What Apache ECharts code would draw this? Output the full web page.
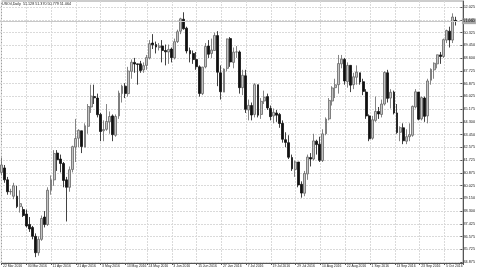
<!DOCTYPE html>
<html><head><meta charset="utf-8">
<script src="https://cdn.jsdelivr.net/npm/echarts@6/dist/echarts.min.js"></script>
<style>html,body{margin:0;padding:0;background:#fff}#c{width:478px;height:270px}</style>
</head><body><div id="c"></div>
<script>
const symbolName = 'USOil,Daily';
const barDates = ['17 Mar','18 Mar','21 Mar','22 Mar','23 Mar','24 Mar','28 Mar','29 Mar','30 Mar','31 Mar','1 Apr','4 Apr','5 Apr','6 Apr','7 Apr','8 Apr','11 Apr','12 Apr','13 Apr','14 Apr','15 Apr','18 Apr','19 Apr','20 Apr','21 Apr','22 Apr','25 Apr','26 Apr','27 Apr','28 Apr','29 Apr','2 May','3 May','4 May','5 May','6 May','9 May','10 May','11 May','12 May','13 May','16 May','17 May','18 May','19 May','20 May','23 May','24 May','25 May','26 May','27 May','30 May','31 May','1 Jun','2 Jun','3 Jun','6 Jun','7 Jun','8 Jun','9 Jun','10 Jun','13 Jun','14 Jun','15 Jun','16 Jun','17 Jun','20 Jun','21 Jun','22 Jun','23 Jun','24 Jun','27 Jun','28 Jun','29 Jun','30 Jun','1 Jul','4 Jul','5 Jul','6 Jul','7 Jul','8 Jul','11 Jul','12 Jul','13 Jul','14 Jul','15 Jul','18 Jul','19 Jul','20 Jul','21 Jul','22 Jul','25 Jul','26 Jul','27 Jul','28 Jul','29 Jul','1 Aug','2 Aug','3 Aug','4 Aug','5 Aug','8 Aug','9 Aug','10 Aug','11 Aug','12 Aug','15 Aug','16 Aug','17 Aug','18 Aug','19 Aug','22 Aug','23 Aug','24 Aug','25 Aug','26 Aug','29 Aug','30 Aug','31 Aug','1 Sep','2 Sep','5 Sep','6 Sep','7 Sep','8 Sep','9 Sep','12 Sep','13 Sep','14 Sep','15 Sep','16 Sep','19 Sep','20 Sep','21 Sep','22 Sep','23 Sep','26 Sep','27 Sep','28 Sep','29 Sep','30 Sep','3 Oct','4 Oct','5 Oct','6 Oct','7 Oct','10 Oct','11 Oct'];
const opens = [40.9,41.2,40.4,39.6,39.3,39.3,38.6,38.4,38.1,37.4,37.2,36.6,35.5,36.4,37.9,37.4,39.7,40.4,42.2,41.8,41.5,40.4,39.9,41.1,42.6,43.2,43.7,42.6,44.0,45.3,46.0,45.9,44.8,43.7,43.8,44.3,44.7,43.4,44.7,46.2,46.7,46.2,47.7,48.3,48.2,48.2,47.8,48.1,48.6,49.6,49.5,49.3,49.4,49.1,49.0,49.2,48.6,49.7,50.4,51.2,50.6,49.1,48.9,48.5,48.0,46.2,48.0,49.4,48.9,49.1,50.1,47.6,46.3,47.9,49.9,48.3,49.0,49.0,46.6,47.4,45.1,45.4,44.8,46.8,44.8,45.7,46.0,45.2,44.7,44.9,44.8,44.2,43.1,42.9,41.9,41.1,41.6,40.1,39.5,40.8,41.9,41.8,43.0,42.8,41.7,43.5,44.5,45.7,46.6,46.8,48.2,48.5,47.0,48.1,46.8,47.3,47.6,47.0,46.3,44.7,43.2,44.4,45.0,44.8,45.5,47.6,45.9,46.3,44.9,43.6,43.9,43.0,43.3,43.4,45.3,46.3,44.5,45.9,44.7,47.1,47.8,48.2,48.8,48.7,49.8,50.4,49.8,51.128];
const highs = [41.9,41.4,40.6,39.8,40.2,40.0,39.7,38.6,38.4,37.9,37.3,36.8,36.6,38.0,38.3,39.9,40.7,42.4,42.4,42.1,41.6,40.6,41.3,42.7,44.5,43.8,43.7,44.2,45.5,46.8,46.8,46.2,44.9,44.4,45.5,45.0,44.8,44.8,46.4,46.8,46.9,48.0,48.5,48.6,48.2,48.4,48.3,48.8,49.8,50.2,49.7,49.6,49.8,49.5,49.5,49.3,49.9,50.5,51.3,51.67,50.7,49.3,49.1,49.0,48.1,48.0,49.6,49.8,49.9,50.3,50.4,48.1,47.9,49.9,50.0,49.3,49.4,49.1,47.8,47.8,45.8,45.6,46.9,46.8,45.9,46.4,46.2,45.4,45.2,45.1,44.9,44.4,43.6,43.4,42.1,41.7,41.6,40.3,41.0,42.1,42.2,43.5,43.1,43.3,43.8,44.6,45.9,46.7,47.2,48.8,48.8,48.6,48.3,48.1,47.6,48.1,47.6,47.2,46.5,44.8,44.7,46.0,45.3,45.8,47.7,47.8,46.5,46.4,45.5,44.0,44.2,43.8,44.2,45.4,46.5,46.3,46.0,46.0,47.2,47.9,48.3,48.8,49.0,49.9,50.5,50.7,51.6,51.370];
const lows = [40.7,40.2,39.4,39.4,39.1,38.5,38.2,37.9,37.2,36.9,36.4,35.2,35.3,36.3,37.2,37.3,39.4,40.0,41.0,40.9,39.9,37.6,39.6,40.9,41.6,42.6,42.2,42.6,43.5,44.9,45.5,44.6,43.0,43.0,43.7,43.5,43.0,43.3,44.5,45.6,45.9,46.0,47.2,47.6,46.8,47.6,47.6,47.8,48.5,49.2,48.9,49.1,48.3,48.1,48.2,48.3,48.5,49.6,50.2,50.5,48.9,48.3,48.2,47.8,46.0,46.1,47.9,48.6,48.6,49.1,46.7,45.8,46.3,47.7,48.0,47.9,48.6,46.2,46.1,44.9,44.4,44.4,44.6,44.6,44.5,45.5,45.1,44.4,44.2,44.3,43.9,42.9,42.6,41.8,41.0,40.6,39.9,39.2,39.3,40.4,41.3,41.7,42.1,41.6,41.6,43.4,44.4,45.4,45.9,46.2,47.9,46.8,46.6,46.3,46.5,46.8,46.8,46.1,44.5,43.0,43.1,44.3,44.5,44.6,45.4,45.6,45.2,44.8,43.5,43.0,42.8,42.8,43.0,43.3,45.2,44.4,44.4,44.3,44.2,46.8,47.2,47.9,48.2,48.6,49.6,49.3,49.6,50.779];
const closes = [41.4,40.4,39.6,39.62,40.0,38.6,38.8,38.0,37.3,37.1,36.6,35.5,36.4,37.8,37.4,39.7,40.4,42.17,41.76,41.5,40.36,39.9,41.08,42.63,43.18,43.73,42.64,44.04,45.33,46.03,45.92,44.78,43.65,43.78,44.32,44.66,43.44,44.66,46.23,46.7,46.21,47.72,48.31,48.19,48.16,47.75,48.08,48.62,49.56,49.48,49.33,49.4,49.1,49.01,49.17,48.62,49.69,50.36,51.23,50.56,49.07,48.88,48.49,48.01,46.21,47.98,49.37,48.85,49.13,50.11,47.64,46.33,47.85,49.88,48.33,48.99,49.0,46.6,47.43,45.14,45.41,44.76,46.8,44.75,45.68,45.95,45.24,44.65,44.94,44.75,44.19,43.13,42.92,41.92,41.14,41.6,40.06,39.51,40.83,41.93,41.8,43.02,42.77,41.71,43.49,44.49,45.74,46.58,46.79,48.22,48.52,47.05,48.1,46.77,47.33,47.64,46.98,46.35,44.7,43.16,44.44,45.0,44.83,45.5,47.62,45.88,46.29,44.9,43.58,43.91,43.03,43.3,43.44,45.34,46.32,44.48,45.93,44.67,47.05,47.83,48.24,48.81,48.69,49.83,50.44,49.81,51.35,51.064];
const priceTickLabels = ['34.875','35.725','36.575','37.425','38.300','39.150','40.025','40.875','41.725','42.575','43.450','44.300','45.175','46.025','46.875','47.725','48.600','49.450','50.325','51.175','52.025'];
const priceMin = 34.875, priceMax = 52.025;
const dateTickLabels = ['22 Mar 2016','30 Mar 2016','11 Apr 2016','21 Apr 2016','3 May 2016','13 May 2016','24 May 2016','3 Jun 2016','15 Jun 2016','27 Jun 2016','7 Jul 2016','19 Jul 2016','29 Jul 2016','10 Aug 2016','22 Aug 2016','1 Sep 2016','13 Sep 2016','23 Sep 2016','5 Oct 2016'];

// categories: bar dates plus one empty slot (chart shift on the right)
const categories = barDates.concat(['']);
const tickBars = dateTickLabels.map((t, i) => i === 0 ? 0 : barDates.indexOf(t.replace(' 2016', '')));
const isTick = (idx) => tickBars.indexOf(idx) >= 0;
const candleData = opens.map((o, i) => [o, closes[i], lows[i], highs[i]]);
const last = opens.length - 1;
const titleText = symbolName + '  ' + [opens[last], highs[last], lows[last], closes[last]].map(v => v.toFixed(3)).join(' ');

const FONT = 'Liberation Sans, Arial, sans-serif';
const gridLine = { show: true, lineStyle: { color: '#dadada', type: [2, 1], width: 1 } };

const chart = echarts.init(document.getElementById('c'), null, { renderer: 'canvas' });
chart.setOption({
  animation: false,
  backgroundColor: '#ffffff',
  title: { text: titleText, left: 2, top: 2, padding: 0,
    textStyle: { fontSize: 3.7, fontWeight: 'normal', color: '#222', fontFamily: FONT } },
  grid: [
    { left: 0, right: 15, top: 7, bottom: 8 },
    { left: 0, right: 15, top: 1, bottom: 7, show: true, borderColor: '#9a9a9a', borderWidth: 1, backgroundColor: 'transparent' }
  ],
  xAxis: [
    { type: 'category', gridIndex: 0, data: categories, boundaryGap: true, show: false },
    { type: 'category', gridIndex: 1, data: categories, boundaryGap: true, position: 'bottom',
      axisLine: { show: true, lineStyle: { color: '#555', width: 1 } },
      axisTick: { show: true, length: 2, interval: (i) => isTick(i), lineStyle: { color: '#555' } },
      axisLabel: { show: true, interval: (i) => isTick(i), align: 'left', margin: 1.5, fontSize: 3.4, color: '#222', fontFamily: FONT,
        formatter: (v, i) => dateTickLabels[tickBars.indexOf(i)] || '' },
      splitLine: Object.assign({ interval: (i) => isTick(i) }, gridLine) }
  ],
  yAxis: [
    { type: 'value', gridIndex: 0, min: priceMin, max: priceMax, show: false, splitLine: { show: false } },
    { type: 'value', gridIndex: 0, position: 'right', min: 0, max: priceTickLabels.length - 1, interval: 1,
      axisLine: { show: false },
      axisTick: { show: true, length: 2, lineStyle: { color: '#555' } },
      axisLabel: { show: true, margin: 3, fontSize: 3.8, color: '#222', fontFamily: FONT,
        formatter: (v) => priceTickLabels[Math.round(v)] || '' },
      splitLine: gridLine },
    { type: 'value', gridIndex: 1, position: 'right', min: 0, max: 1,
      axisLine: { show: true, onZero: false, lineStyle: { color: '#555', width: 1 } },
      axisTick: { show: false }, axisLabel: { show: false }, splitLine: { show: false } }
  ],
  series: [{
    type: 'candlestick', xAxisIndex: 0, yAxisIndex: 0, data: candleData, barWidth: 2.4, clip: false,
    itemStyle: { color: '#c4c4c4', color0: '#111111', borderColor: '#666666', borderColor0: '#111111', borderWidth: 0.8 },
    markLine: { silent: true, symbol: 'none', animation: false,
      lineStyle: { color: '#c8c8c8', type: 'solid', width: 1 },
      label: { show: true, position: 'end', distance: 1.5, fontSize: 3.8, color: '#000', fontFamily: FONT,
        backgroundColor: '#a9a9a9', padding: [0.8, 1.2], formatter: (p) => p.value.toFixed(3) },
      data: [{ yAxis: closes[last] }] }
  }]
});
</script></body></html>
